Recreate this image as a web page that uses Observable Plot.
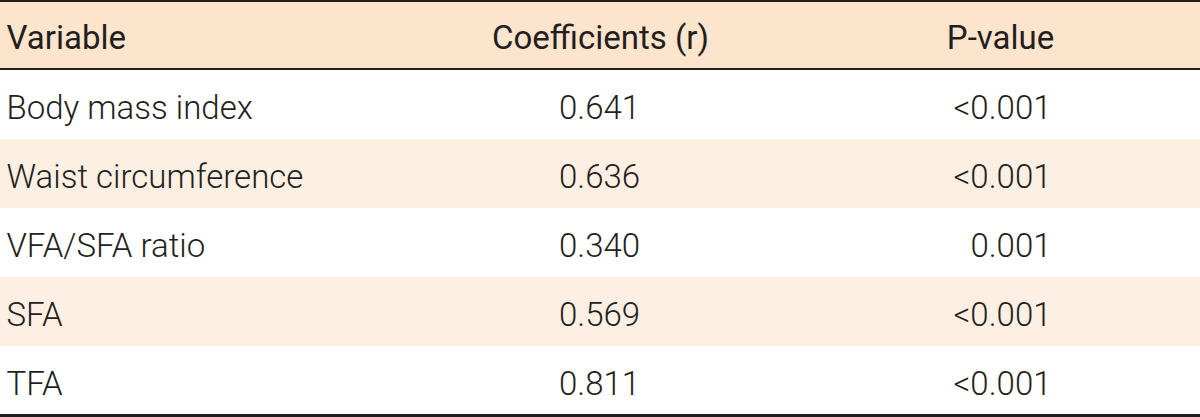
<!DOCTYPE html>
<html>
<head>
<meta charset="utf-8">
<script src="https://cdn.jsdelivr.net/npm/d3@7"></script>
<script src="https://cdn.jsdelivr.net/npm/@observablehq/plot@0.6"></script>
<style>
  html, body { margin: 0; padding: 0; background: #fff; }
  #chart svg { display: block; }
</style>
</head>
<body>
<div id="chart"></div>
<script>
// ---- data ----
const headers = ["Variable", "Coefficients (r)", "P-value"];
const variables = ["Body mass index", "Waist circumference", "VFA/SFA ratio", "SFA", "TFA"];
const coefficients = ["0.641", "0.636", "0.340", "0.569", "0.811"];
const pvalues = ["<0.001", "<0.001", "0.001", "<0.001", "<0.001"];

// ---- layout ----
const W = 1200, H = 417;
const rowKeys = ["__header__", ...variables];
const yRange = [1, 415];
const bw = (yRange[1] - yRange[0]) / rowKeys.length;
const colX = [6, 599, 1051];
const headerX = [6, 600, 1000];
const anchors = ["start", "middle", "end"];
const headerAnchors = ["start", "middle", "middle"];

const bands = rowKeys.map((k, i) => ({key: k, i}));
const cells = [];
variables.forEach((v, i) => {
  cells.push({row: v, x: colX[0], text: v, anchor: anchors[0]});
  cells.push({row: v, x: colX[1], text: coefficients[i], anchor: anchors[1]});
  cells.push({row: v, x: colX[2], text: pvalues[i], anchor: anchors[2]});
});
const headCells = headers.map((h, j) => ({row: "__header__", x: headerX[j], text: h, anchor: headerAnchors[j]}));

const font = "Roboto, sans-serif";
const ink = "#231f20";
const fillFor = d => d.i === 0 ? "#fde4cc" : (d.i % 2 === 0 ? "#fdf0e3" : "#ffffff");
const textOpts = {fontSize: 33, fontWeight: 300, fill: ink};
const headOpts = {fontSize: 33, fontWeight: 400, fill: ink, dy: 2};

const plot = Plot.plot({
  width: W, height: H,
  margin: 0,
  style: {fontFamily: font, background: "#fff"},
  x: {type: "linear", domain: [0, W], range: [0, W], axis: null},
  y: {type: "band", domain: rowKeys, range: yRange, padding: 0, axis: null},
  marks: [
    Plot.barX(bands, {y: "key", x1: () => 0, x2: () => W, fill: fillFor}),
    // top rule
    Plot.barX(bands.slice(0, 1), {y: "key", x1: () => 0, x2: () => W, fill: ink, insetBottom: bw - 2, dy: -1}),
    // header rule
    Plot.barX(bands.slice(0, 1), {y: "key", x1: () => 0, x2: () => W, fill: ink, insetTop: bw - 2}),
    // bottom rule
    Plot.barX(bands.slice(-1), {y: "key", x1: () => 0, x2: () => W, fill: ink, insetTop: bw - 3, dy: 2}),
    Plot.text(headCells.filter(d => d.anchor === "start"), {x: "x", y: "row", text: "text", textAnchor: "start", ...headOpts}),
    Plot.text(headCells.filter(d => d.anchor === "middle"), {x: "x", y: "row", text: "text", textAnchor: "middle", ...headOpts}),
    Plot.text(cells.filter(d => d.anchor === "start"), {x: "x", y: "row", text: "text", textAnchor: "start", ...textOpts, dy: 3}),
    Plot.text(cells.filter(d => d.anchor === "middle"), {x: "x", y: "row", text: "text", textAnchor: "middle", ...textOpts, dy: 3}),
    Plot.text(cells.filter(d => d.anchor === "end"), {x: "x", y: "row", text: "text", textAnchor: "end", ...textOpts, dy: 3})
  ]
});
document.getElementById("chart").appendChild(plot);
</script>
</body>
</html>
